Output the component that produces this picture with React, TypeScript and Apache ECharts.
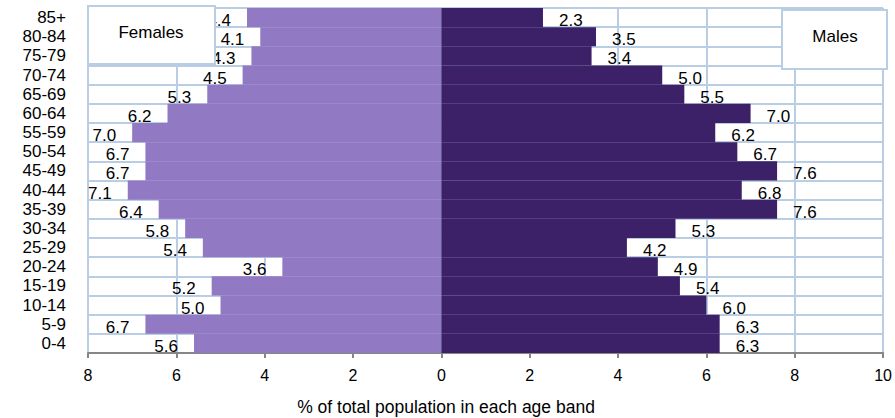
import React, { useEffect, useRef } from "react";
import * as echarts from "echarts";

// bottom to top
const ageBands = ["0-4", "5-9", "10-14", "15-19", "20-24", "25-29", "30-34", "35-39", "40-44", "45-49", "50-54", "55-59", "60-64", "65-69", "70-74", "75-79", "80-84", "85+"];
const females = [5.6, 6.7, 5.0, 5.2, 3.6, 5.4, 5.8, 6.4, 7.1, 6.7, 6.7, 7.0, 6.2, 5.3, 4.5, 4.3, 4.1, 4.4];
const males = [6.3, 6.3, 6.0, 5.4, 4.9, 4.2, 5.3, 7.6, 6.8, 7.6, 6.7, 6.2, 7.0, 5.5, 5.0, 3.4, 3.5, 2.3];
const axisMin = -8;
const axisMax = 10;
const axisStep = 2;
const axisTitle = "% of total population in each age band";

const FONT = "'Liberation Sans', Arial, sans-serif";
const GRID_COLOR = "#B9CDE5";
const FEMALE_COLOR = "#9279C4";
const MALE_COLOR = "#3C2068";

export default function App() {
  const ref = useRef<HTMLDivElement>(null);
  useEffect(() => {
    if (!ref.current) return;
    const chart = echarts.init(ref.current, null, { renderer: "svg" });
    chart.setOption({
      animation: false,
      grid: { left: 88, right: 9, top: 8, bottom: 65, containLabel: false },
      xAxis: {
        type: "value",
        min: axisMin,
        max: axisMax,
        interval: axisStep,
        axisLine: { show: true, lineStyle: { color: "#868686", width: 2 } },
        axisTick: { show: true, length: 5, lineStyle: { color: "#868686", width: 2 } },
        axisLabel: {
          color: "#000",
          fontFamily: FONT,
          fontSize: 16,
          margin: 14,
          formatter: (v: number) => String(Math.abs(v)),
        },
        splitLine: { show: true, lineStyle: { color: GRID_COLOR, width: 2 } },
      },
      yAxis: {
        type: "category",
        data: ageBands,
        axisLine: { show: false },
        axisTick: { show: false },
        axisLabel: { color: "#000", fontFamily: FONT, fontSize: 17, margin: 22, interval: 0 },
        splitLine: { show: true, interval: 0, lineStyle: { color: GRID_COLOR, width: 2 } },
      },
      series: [
        {
          name: "Females",
          type: "bar",
          data: females.map((v) => -v),
          barGap: "-100%",
          barCategoryGap: "0%",
          itemStyle: { color: FEMALE_COLOR, borderColor: FEMALE_COLOR, borderWidth: 2 },
          label: {
            show: true,
            position: "left",
            distance: 16,
            offset: [0, 3],
            color: "#000",
            fontFamily: FONT,
            fontSize: 17,
            formatter: (p: any) => Math.abs(p.value).toFixed(1),
          },
        },
        {
          name: "Males",
          type: "bar",
          data: males,
          barGap: "-100%",
          barCategoryGap: "0%",
          itemStyle: { color: MALE_COLOR, borderColor: MALE_COLOR, borderWidth: 2 },
          label: {
            show: true,
            position: "right",
            distance: 16,
            offset: [0, 3],
            color: "#000",
            fontFamily: FONT,
            fontSize: 17,
            formatter: (p: any) => Number(p.value).toFixed(1),
          },
        },
      ],
      graphic: [
        {
          type: "rect",
          shape: { x: 88, y: 6, width: 127, height: 58 },
          style: { fill: "#fff", stroke: GRID_COLOR, lineWidth: 2 },
          z: 100,
        },
        {
          type: "text",
          x: 151,
          y: 32,
          style: { text: "Females", fill: "#000", font: `17px ${FONT}`, align: "center", verticalAlign: "middle" },
          z: 101,
        },
        {
          type: "rect",
          shape: { x: 782, y: 10, width: 105, height: 59 },
          style: { fill: "#fff", stroke: GRID_COLOR, lineWidth: 2 },
          z: 100,
        },
        {
          type: "text",
          x: 835,
          y: 36,
          style: { text: "Males", fill: "#000", font: `17px ${FONT}`, align: "center", verticalAlign: "middle" },
          z: 101,
        },
        {
          type: "text",
          x: 446,
          y: 407,
          style: { text: axisTitle, fill: "#000", font: `17.5px ${FONT}`, align: "center", verticalAlign: "middle" },
          z: 101,
        },
      ],
    });
    return () => chart.dispose();
  }, []);
  return <div ref={ref} style={{ width: 895, height: 418, position: "absolute", left: 0, top: 0 }} />;
}
